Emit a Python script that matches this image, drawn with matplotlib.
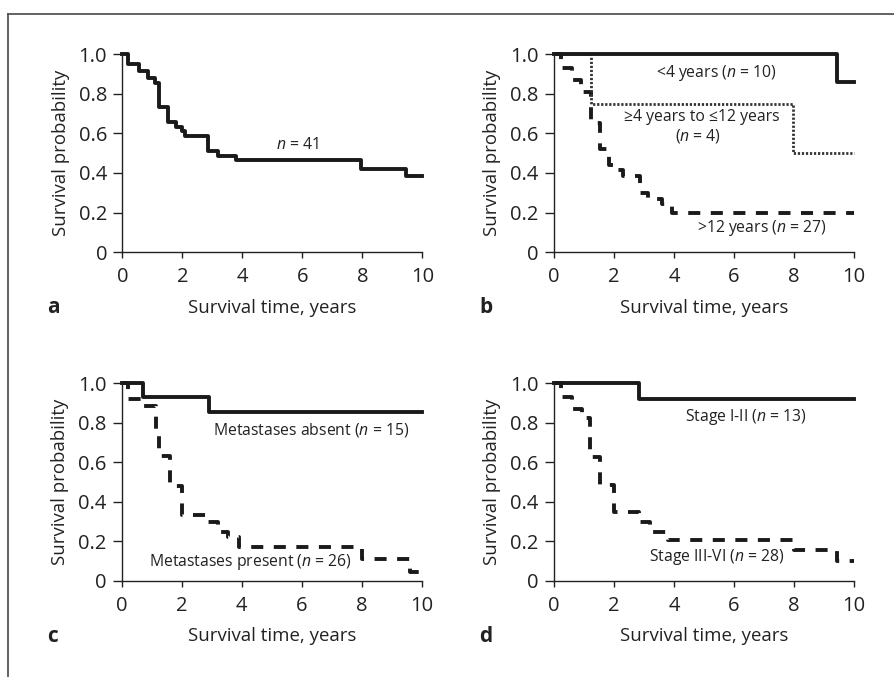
import matplotlib
matplotlib.use("Agg")
import matplotlib.pyplot as plt
from matplotlib.lines import Line2D

plt.rcParams['font.family'] = ['Open Sans', 'DejaVu Sans']
plt.rcParams['mathtext.fontset'] = 'custom'
plt.rcParams['mathtext.it'] = 'Open Sans:italic'
plt.rcParams['mathtext.rm'] = 'Open Sans'

# Kaplan-Meier step data (time in years, survival probability)
a_t = [0, 0.2, 0.55, 0.85, 1.1, 1.22, 1.52, 1.8, 2.0, 2.1, 2.85, 3.2, 3.8, 7.95, 9.45, 10]
a_s = [1.0, 0.951, 0.912, 0.878, 0.854, 0.732, 0.659, 0.634, 0.61, 0.585, 0.512, 0.488, 0.463, 0.42, 0.386, 0.386]

b_young_t = [0, 9.45, 10]
b_young_s = [1.0, 0.857, 0.857]
b_mid_t = [0, 1.22, 7.98, 10]
b_mid_s = [1.0, 0.75, 0.5, 0.5]
b_old_t = [0, 0.25, 0.6, 0.9, 1.22, 1.52, 1.82, 2.0, 2.3, 2.86, 3.15, 3.6, 3.95, 10]
b_old_s = [1.0, 0.93, 0.87, 0.81, 0.65, 0.52, 0.44, 0.415, 0.386, 0.30, 0.27, 0.245, 0.2, 0.2]

c_abs_t = [0, 0.7, 2.9, 10]
c_abs_s = [1.0, 0.933, 0.857, 0.857]
c_pres_t = [0, 0.2, 0.75, 1.15, 1.25, 1.6, 2.0, 2.85, 3.2, 3.55, 3.9, 8.0, 9.6, 10]
c_pres_s = [1.0, 0.923, 0.885, 0.77, 0.63, 0.482, 0.334, 0.3, 0.25, 0.224, 0.174, 0.111, 0.047, 0.047]

d_early_t = [0, 2.85, 10]
d_early_s = [1.0, 0.923, 0.923]
d_late_t = [0, 0.25, 0.6, 0.95, 1.2, 1.52, 2.0, 2.84, 3.2, 3.8, 8.0, 9.45, 10]
d_late_s = [1.0, 0.933, 0.87, 0.823, 0.626, 0.486, 0.351, 0.3, 0.25, 0.207, 0.157, 0.101, 0.101]

yticks = [0, 0.2, 0.4, 0.6, 0.8, 1.0]
ytick_labels = ['0', '0.2', '0.4', '0.6', '0.8', '1.0']
xticks = [0, 2, 4, 6, 8, 10]

ink = '#222222'
solid = dict(color='#1a1a1a', lw=2.8, ls='-')
dashed = dict(color='#1a1a1a', lw=2.8, ls=(0, (3.1, 2.7)))
dotted = dict(color='#333333', lw=2.0, ls=(0, (0.8, 0.65)))

fig = plt.figure(figsize=(8.95, 6.77), dpi=100)

W, H = 895, 677
def make_ax(left, top, right, bottom):
    return fig.add_axes([left / W, 1 - bottom / H, (right - left) / W, (bottom - top) / H])

ax_a = make_ax(122.3, 54, 422.3, 252.3)
ax_b = make_ax(554, 54, 854, 252.3)
ax_c = make_ax(121.7, 383.3, 421.7, 581)
ax_d = make_ax(554, 383.3, 854, 581)

for ax, letter in zip([ax_a, ax_b, ax_c, ax_d], 'abcd'):
    ax.set_xlim(0, 10)
    ax.set_ylim(0, 1)
    ax.spines[['top', 'right']].set_visible(False)
    for s in ['left', 'bottom']:
        ax.spines[s].set_linewidth(1.0)
        ax.spines[s].set_color(ink)
    ax.set_xticks(xticks)
    ax.set_yticks(yticks)
    ax.set_yticklabels(ytick_labels)
    ax.tick_params(axis='y', length=6.5, width=1, pad=4.5, labelsize=14.5, colors=ink)
    ax.tick_params(axis='x', length=4.5, width=1, pad=6, labelsize=14.5, colors=ink)
    ax.set_xlabel('Survival time, years', fontsize=13.4, color=ink)
    ax.set_ylabel('Survival probability', fontsize=13.4, color=ink)
    ax.xaxis.set_label_coords(0.5, -0.235)
    ax.yaxis.set_label_coords(-0.175, 0.5)
    ax.text(-0.25, -0.28, letter, transform=ax.transAxes, fontsize=15,
            fontweight='bold', ha='left', va='center', color=ink)

ann = dict(fontsize=11.3, ha='center', va='center', color=ink)

# a
ax_a.plot(a_t, a_s, drawstyle='steps-post', clip_on=False, **solid)
ax_a.text(5.82, 0.54, '$n$ = 41', **ann)

# b
ax_b.plot(b_old_t, b_old_s, drawstyle='steps-post', clip_on=False, **dashed)
ax_b.plot(b_mid_t, b_mid_s, drawstyle='steps-post', clip_on=False, **dotted)
ax_b.plot(b_young_t, b_young_s, drawstyle='steps-post', clip_on=False, **solid)
ax_b.text(5.42, 0.906, '<4 years ($n$ = 10)', **ann)
ax_b.text(4.92, 0.68, '≥4 years to ≤12 years', **ann)
ax_b.text(4.81, 0.586, '($n$ = 4)', **ann)
ax_b.text(6.92, 0.121, '>12 years ($n$ = 27)', **ann)

# c
ax_c.plot(c_pres_t, c_pres_s, drawstyle='steps-post', clip_on=False, **dashed)
ax_c.plot(c_abs_t, c_abs_s, drawstyle='steps-post', clip_on=False, **solid)
ax_c.text(6.3, 0.764, 'Metastases absent ($n$ = 15)', **ann)
ax_c.text(4.28, 0.098, 'Metastases present ($n$ = 26)', **ann)

# d
ax_d.plot(d_late_t, d_late_s, drawstyle='steps-post', clip_on=False, **dashed)
ax_d.plot(d_early_t, d_early_s, drawstyle='steps-post', clip_on=False, **solid)
ax_d.text(6.4, 0.828, 'Stage I-II ($n$ = 13)', **ann)
ax_d.text(5.42, 0.123, 'Stage III-VI ($n$ = 28)', **ann)

# outer frame (left and top edges only visible)
fx, fy = 8.3 / W, 1 - 13.7 / H
fig.add_artist(Line2D([fx, fx], [0, fy], color='#555555', lw=1.3))
fig.add_artist(Line2D([fx, 1], [fy, fy], color='#555555', lw=1.3))

fig.savefig('out.png', dpi=100)
